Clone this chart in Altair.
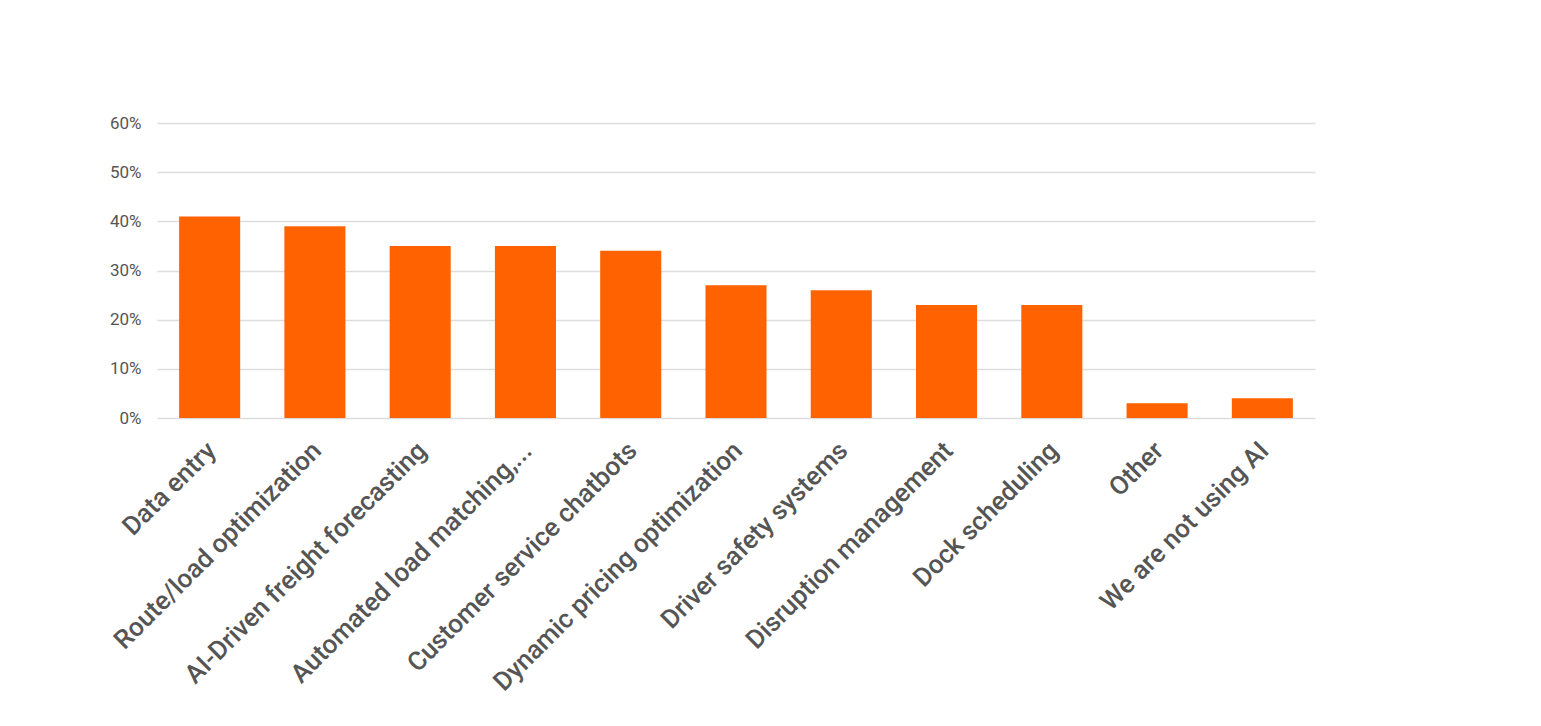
import altair as alt
import pandas as pd

categories = [
    "Data entry",
    "Route/load optimization",
    "AI-Driven freight forecasting",
    "Automated load matching,...",
    "Customer service chatbots",
    "Dynamic pricing optimization",
    "Driver safety systems",
    "Disruption management",
    "Dock scheduling",
    "Other",
    "We are not using AI",
]
values = [0.41, 0.39, 0.35, 0.35, 0.34, 0.27, 0.26, 0.23, 0.23, 0.03, 0.04]

df = pd.DataFrame({"category": categories, "value": values})

chart = (
    alt.Chart(df)
    .mark_bar(color="#FF6200")
    .encode(
        x=alt.X(
            "category:N",
            sort=categories,
            title=None,
            scale=alt.Scale(paddingInner=0.42, paddingOuter=0.21),
            axis=alt.Axis(
                labelAngle=-45,
                labelFont="Roboto",
                labelFontSize=26,
                labelFontWeight=500,
                labelColor="#555555",
                labelPadding=19,
                labelOffset=-7,
                ticks=False,
                domain=False,
                grid=False,
                labelLimit=500,
            ),
        ),
        y=alt.Y(
            "value:Q",
            title=None,
            scale=alt.Scale(domain=[0, 0.6]),
            axis=alt.Axis(
                format=".0%",
                values=[0, 0.1, 0.2, 0.3, 0.4, 0.5, 0.6],
                labelFont="Roboto",
                labelFontSize=17,
                labelColor="#555555",
                labelPadding=16,
                ticks=False,
                domain=False,
                gridColor="#DDDDDD",
                gridWidth=1.5,
            ),
        ),
    )
    .properties(
        width=1158,
        height=295,
        autosize=alt.AutoSizeParams(type="none"),
        padding={"left": 157, "top": 123, "right": 226, "bottom": 308},
    )
    .configure_view(stroke=None)
)

chart.save("out.html", embed_options={"renderer": "svg", "actions": False})
